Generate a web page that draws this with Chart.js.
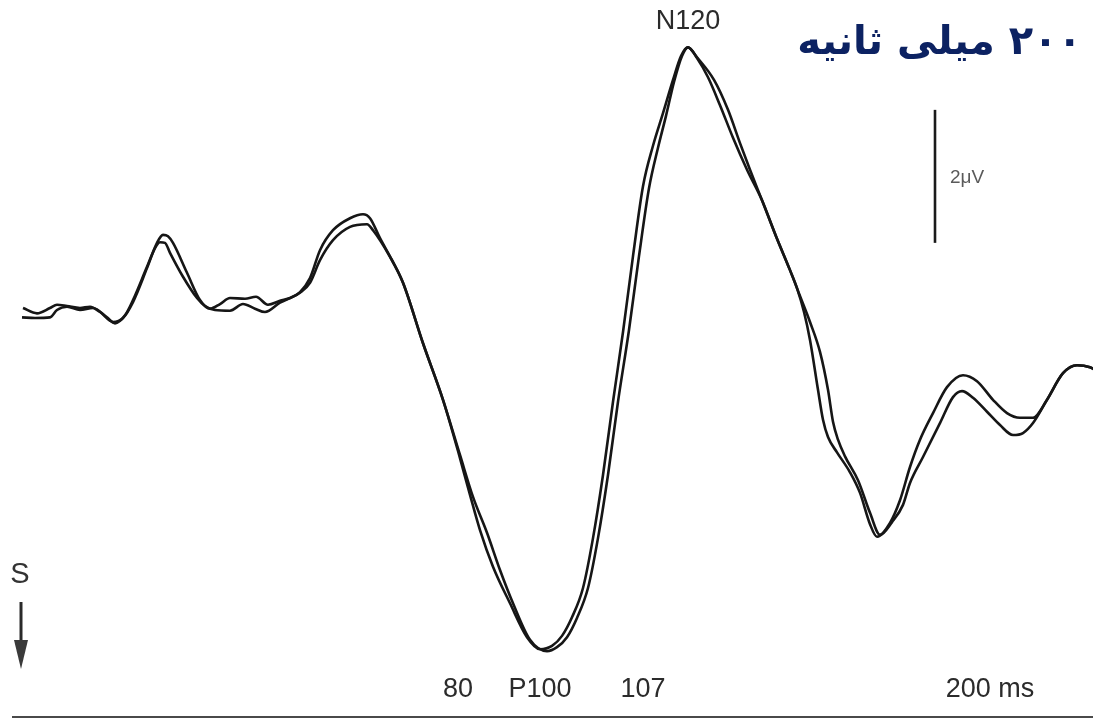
<!DOCTYPE html>
<html lang="fa">
<head>
<meta charset="utf-8">
<title>VEP</title>
<script src="https://cdn.jsdelivr.net/npm/chart.js@4.4.1/dist/chart.umd.min.js"></script>
<style>
  html, body { margin: 0; padding: 0; background: #ffffff; }
  #wrap { width: 1093px; height: 721px; }
</style>
</head>
<body>
<div id="wrap"><canvas id="vep" width="1093" height="721"></canvas></div>
<script>
// Two superimposed pattern-reversal VEP recordings.
// Time in ms, amplitude in µV (negative plotted upward, as is usual for evoked potentials).
const timeA = [-3.6, -1.0, 2.0, 3.4, 5.4, 8.0, 10.6, 13.4, 15.0, 17.0, 18.6, 21.4, 23.0, 24.0, 25.0, 26.0, 28.6, 31.4, 33.0, 35.0,
  38.0, 40.6, 43.0, 45.0, 48.0, 50.0, 52.0, 54.0, 56.0, 58.6, 62.0, 65.4, 66.6, 70.0, 72.6, 76.6, 80.6, 83.6, 86.0, 88.0,
  90.6, 94.0, 97.4, 100.0, 102.4, 104.4, 106.4, 108.6, 110.6, 112.6, 114.6, 116.6, 118.6, 120.6, 122.6, 124.6, 126.6, 128.2, 129.6,
  131.4, 133.6, 136.0, 138.6, 141.4, 144.4, 147.2, 150.0, 151.4, 152.8, 154.0, 155.6, 156.6, 157.6, 159.4, 162.0, 164.0, 166.0, 167.4,
  170.0, 172.0, 174.0, 176.0, 178.6, 181.4, 184.6, 187.4, 190.6, 193.4, 196.0, 198.6, 201.4, 204.6, 207.4, 210.0, 211.0];
const voltA = [0.08, 0.09, 0.08, -0.03, -0.08, -0.03, -0.06, 0.08, 0.17, 0.05, -0.18, -0.68, -0.96, -1.05, -1.04, -0.89, -0.53, -0.21, -0.09, -0.03,
  -0.02, -0.12, -0.05, 0.00, -0.14, -0.21, -0.29, -0.44, -0.78, -1.08, -1.28, -1.32, -1.23, -0.83, -0.44, 0.47, 1.32, 2.09, 2.75, 3.28,
  3.83, 4.38, 4.89, 5.07, 5.02, 4.87, 4.59, 4.15, 3.40, 2.45, 1.35, 0.30, -0.84, -1.89, -2.50, -2.99, -3.49, -3.85, -3.98,
  -3.82, -3.53, -3.11, -2.62, -2.14, -1.68, -1.14, -0.63, -0.36, 0.00, 0.42, 1.17, 1.62, 1.88, 2.11, 2.41, 2.72, 3.19, 3.38,
  3.17, 2.83, 2.33, 1.92, 1.52, 1.13, 0.95, 1.04, 1.32, 1.52, 1.59, 1.59, 1.32, 0.92, 0.80, 0.83, 0.87];

const timeB = [-3.4, -0.6, 2.0, 3.4, 5.4, 8.0, 10.0, 12.0, 14.6, 16.6, 18.6, 21.4, 23.4, 24.6, 25.6, 26.6, 29.4, 32.0, 34.0, 36.0,
  38.0, 41.0, 43.2, 45.6, 48.0, 50.0, 52.0, 54.0, 56.0, 58.6, 62.0, 64.6, 66.0, 68.0, 70.4, 72.6, 76.6, 80.6, 84.0, 86.6,
  89.4, 92.0, 94.6, 98.0, 101.4, 103.4, 105.4, 107.4, 109.6, 111.6, 113.6, 115.6, 117.8, 119.8, 121.8, 123.6, 125.2, 126.8, 128.4, 129.6,
  131.4, 134.8, 137.6, 140.0, 142.0, 144.4, 147.2, 150.0, 152.0, 154.0, 156.0, 157.6, 158.6, 159.6, 161.0, 163.6, 166.0, 168.0,
  170.4, 172.6, 174.0, 176.6, 180.0, 182.6, 184.4, 186.6, 189.4, 192.0, 194.6, 196.6, 198.6, 201.4, 204.6, 207.4, 210.0, 211.0];
const voltB = [-0.06, 0.02, -0.06, -0.11, -0.09, -0.06, -0.08, 0.00, 0.15, 0.09, -0.15, -0.66, -1.04, -1.16, -1.14, -1.04, -0.59, -0.18, -0.05, -0.12,
  -0.21, -0.20, -0.23, -0.11, -0.17, -0.21, -0.30, -0.51, -0.93, -1.23, -1.41, -1.47, -1.41, -1.11, -0.78, -0.44, 0.47, 1.32, 2.15, 2.78,
  3.32, 3.88, 4.38, 4.93, 5.10, 5.04, 4.89, 4.60, 4.15, 3.40, 2.45, 1.35, 0.27, -0.84, -1.86, -2.47, -2.95, -3.46, -3.85, -3.98,
  -3.83, -3.49, -3.04, -2.54, -2.14, -1.68, -1.14, -0.63, -0.24, 0.15, 0.60, 1.17, 1.65, 1.92, 2.17, 2.53, 3.02, 3.35,
  3.16, 2.90, 2.57, 2.18, 1.67, 1.28, 1.19, 1.29, 1.50, 1.70, 1.85, 1.82, 1.67, 1.32, 0.92, 0.80, 0.83, 0.87];

// Latency labels under the trace and the N120 peak
const peakLabels = ['80', 'P100', '107'];
const peakLabelTimes = [83.6, 100.0, 120.6];
const timeLabel = '200 ms';
const timeLabelAt = 190.0;
const peakTopLabel = 'N120';
const peakTopTime = 129.6;

// Calibration bar
const calibrationUV = 2;
const calibrationTop = -3.04;
const calibrationLabel = '2μV';

const titleText = '۲۰۰ میلی ثانیه';

function toPoints(ts, vs) { return ts.map((t, i) => ({ x: t, y: vs[i] })); }

const traceStyle = {
  borderColor: '#161616',
  borderWidth: 2.6,
  pointRadius: 0,
  fill: false,
  cubicInterpolationMode: 'monotone',
  clip: false
};

const annotate = {
  id: 'annotate',
  afterDraw(chart) {
    const { ctx, scales: { x, y } } = chart;
    ctx.save();

    // Title (right-to-left)
    ctx.fillStyle = '#0c2262';
    ctx.font = 'bold 40px "DejaVu Sans"';
    ctx.direction = 'rtl';
    ctx.textAlign = 'right';
    ctx.textBaseline = 'alphabetic';
    ctx.fillText(titleText, 1082, 54);
    ctx.direction = 'ltr';

    // Peak labels
    ctx.fillStyle = '#2b2b2b';
    ctx.font = '27px "Liberation Sans"';
    ctx.textAlign = 'center';
    ctx.textBaseline = 'middle';
    ctx.fillText(peakTopLabel, x.getPixelForValue(peakTopTime), 22);
    peakLabels.forEach((lbl, i) => {
      ctx.fillText(lbl, x.getPixelForValue(peakLabelTimes[i]), 690);
    });
    ctx.fillText(timeLabel, x.getPixelForValue(timeLabelAt), 690);

    // Calibration bar
    const barX = 935;
    ctx.strokeStyle = '#1a1a1a';
    ctx.lineWidth = 2.6;
    ctx.beginPath();
    ctx.moveTo(barX, y.getPixelForValue(calibrationTop));
    ctx.lineTo(barX, y.getPixelForValue(calibrationTop + calibrationUV));
    ctx.stroke();
    ctx.fillStyle = '#5a5a5a';
    ctx.font = '19px "Liberation Sans"';
    ctx.textAlign = 'left';
    ctx.fillText(calibrationLabel, 950, 178);

    // Stimulus marker
    ctx.fillStyle = '#333';
    ctx.font = '29px "Liberation Sans"';
    ctx.textAlign = 'center';
    ctx.fillText('S', 20, 575);
    ctx.strokeStyle = '#2a2a2a';
    ctx.lineWidth = 3;
    ctx.beginPath();
    ctx.moveTo(21, 602);
    ctx.lineTo(21, 650);
    ctx.stroke();
    ctx.beginPath();
    ctx.moveTo(14, 640);
    ctx.lineTo(28, 640);
    ctx.lineTo(21, 669);
    ctx.closePath();
    ctx.fillStyle = '#3a3a3a';
    ctx.fill();

    // Baseline rule at the bottom of the record
    ctx.strokeStyle = '#4a4a4a';
    ctx.lineWidth = 2;
    ctx.beginPath();
    ctx.moveTo(12, 717);
    ctx.lineTo(1093, 717);
    ctx.stroke();

    ctx.restore();
  }
};

new Chart(document.getElementById('vep'), {
  type: 'line',
  data: {
    datasets: [
      Object.assign({ label: 'A', data: toPoints(timeA, voltA) }, traceStyle),
      Object.assign({ label: 'B', data: toPoints(timeB, voltB) }, traceStyle)
    ]
  },
  options: {
    responsive: false,
    animation: false,
    parsing: true,
    layout: { padding: 0 },
    plugins: { legend: { display: false }, tooltip: { enabled: false }, title: { display: false } },
    scales: {
      x: { type: 'linear', min: -8, max: 210.6, display: false },
      y: { type: 'linear', min: -4.692, max: 6.150, reverse: true, display: false }
    }
  },
  plugins: [annotate]
});
</script>
</body>
</html>
